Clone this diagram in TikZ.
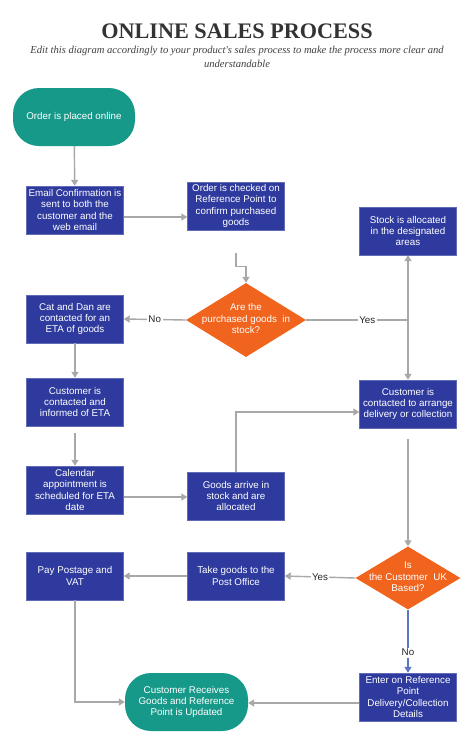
\documentclass[tikz,border=0pt]{standalone}
\usepackage{fontspec}
\setmainfont{Liberation Sans}
\newfontfamily\titlefont{Liberation Serif}
\usepackage{xcolor}
\usetikzlibrary{shapes.geometric}
\usetikzlibrary{arrows.meta}
\definecolor{boxblue}{HTML}{2E3A9E}
\definecolor{deciorange}{HTML}{F0641E}
\definecolor{termteal}{HTML}{17998A}
\definecolor{linegrey}{HTML}{A8A8A8}
\definecolor{noblue}{HTML}{5A76C4}
\tikzstyle{process}=[rectangle, fill=boxblue, draw=boxblue!75!white, minimum width=97pt, minimum height=48pt, inner sep=0pt, align=center, text=white]
\tikzstyle{decision}=[diamond, fill=deciorange, inner sep=0pt, text=white]
\tikzstyle{terminal}=[rectangle, rounded corners=26pt, fill=termteal, text=white, align=center, inner sep=0pt, minimum height=58pt]
\tikzstyle{wire}=[draw=linegrey, line width=1.4pt]
\tikzstyle{link}=[wire, ->]
\tikzstyle{answer}=[fill=white, text=black!85, inner sep=1.5pt]
\newcommand{\dtext}[1]{\makebox[0pt]{\begin{tabular}{@{}c@{}}#1\end{tabular}}}

\begin{document}
\begin{tikzpicture}[x=1pt, y=-1pt, >={Triangle[width=7pt, length=6pt]}, every node/.style={font=\fontsize{9.8}{11.3}\selectfont}]
    \useasboundingbox[fill=white] (0,0) rectangle (474,745);

    % heading
    \node (title) at (237,31) [font=\titlefont\bfseries\fontsize{22.2}{26}\selectfont, text=black!80] {ONLINE SALES PROCESS};
    \node (subtitle) at (237,57) [font=\titlefont\itshape\fontsize{10.6}{13.5}\selectfont, text=black!75, align=center] {Edit this diagram accordingly to your product's sales process to make the process more clear and\\understandable};

    % steps
    \node[terminal, minimum width=122pt] (order) at (74,117) {Order is placed online};
    \node[process] (email)   at (75,210)  {Email Confirmation is\\sent to both the\\customer and the\\web email};
    \node[process] (check)   at (236,206) {Order is checked on\\Reference Point to\\confirm purchased\\goods};
    \node[process] (stock)   at (408,231) {Stock is allocated\\in the designated\\areas};
    \node[decision, minimum width=120pt, minimum height=74pt, aspect=1.6] (q1) at (246,320) {\dtext{Are the\\purchased goods\ \ in\\stock?}};
    \node[process] (cat)     at (75,319)  {Cat and Dan are\\contacted for an\\ETA of goods};
    \node[process] (inform)  at (75,402)  {Customer is\\contacted and\\informed of ETA};
    \node[process] (cal)     at (75,490)  {Calendar\\appointment is\\scheduled for ETA\\date};
    \node[process] (goods)   at (236,496) {Goods arrive in\\stock and are\\allocated};
    \node[process] (arrange) at (408,404) {Customer is\\contacted to arrange\\delivery or collection};
    \node[decision, minimum width=105pt, minimum height=63pt, aspect=1.6] (q2) at (408,578) {\dtext{Is\\the Customer\ \ UK\\Based?}};
    \node[process] (take)    at (236,576) {Take goods to the\\Post Office};
    \node[process] (pay)     at (75,576)  {Pay Postage and\\VAT};
    \node[process] (enter)   at (408,697) {Enter on Reference\\Point\\Delivery/Collection\\Details};
    \node[terminal, minimum width=123pt] (recv) at (186.5,702) {Customer Receives\\Goods and Reference\\Point is Updated};

    % connectors
    \draw[link] (order) -- (email);
    \draw[link] ([yshift=-7pt]email.east) -- ([yshift=-7pt]email.east -| check.west);
    \draw[link] ([yshift=-23pt]check.south) -- ++(0,13) -| (q1.north);
    \draw[link] (q1.west) -- node[answer]{No} (cat.east);
    \draw[wire] (q1.east) -- node[answer, pos=0.6]{Yes} (q1.east -| stock.south) coordinate (split);
    \draw[link] (split) -- (stock.south);
    \draw[link] (split) -- (arrange.north);
    \draw[link] (cat) -- (inform);
    \draw[link] ([yshift=-7pt]inform.south) -- (cal.north);
    \draw[link] ([yshift=-7pt]cal.east) -- ([yshift=-7pt]cal.east -| goods.west);
    \draw[link] (goods.north) |- ([yshift=-8pt]arrange.west);
    \draw[link] ([yshift=-11pt]arrange.south) -- (q2.north);
    \draw[link] (q2.west) -- node[answer]{Yes} (take.east);
    \draw[link] (take) -- (pay);
    \draw[link] (pay.south) |- (recv.west);
    \draw[link, draw=noblue] (q2.south) -- node[answer, pos=0.68]{No} (enter.north);
    \draw[link] ([yshift=-6pt]enter.west) -- ([yshift=-6pt]enter.west -| recv.east);
  \end{tikzpicture}
\end{document}
